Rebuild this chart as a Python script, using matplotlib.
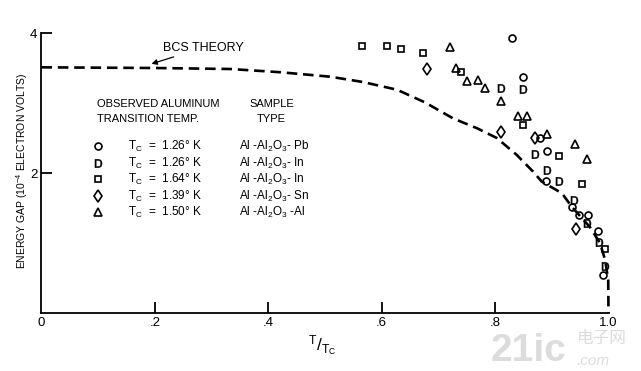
import matplotlib
matplotlib.use("Agg")
import matplotlib.pyplot as plt

plt.rcParams["font.family"] = ["Liberation Sans", "DejaVu Sans"]
plt.rcParams["mathtext.default"] = "regular"

# BCS theory curve
bcs_t = [0.0, 0.201, 0.333, 0.421, 0.509, 0.567, 0.627, 0.676, 0.726, 0.768,
         0.803, 0.838, 0.867, 0.882, 0.918, 0.935, 0.967, 0.985, 0.994, 0.9995, 1.0]
bcs_gap = [3.51, 3.50, 3.486, 3.44, 3.376, 3.30, 3.19, 3.01, 2.78, 2.64,
           2.50, 2.26, 2.02, 1.88, 1.71, 1.52, 1.23, 1.00, 0.76, 0.47, 0.0]

# measured points, one list pair per sample
pb_t = [0.830, 0.850, 0.880, 0.892, 0.890, 0.936, 0.948, 0.963, 0.982, 0.990]
pb_gap = [3.93, 3.37, 2.50, 2.31, 1.89, 1.52, 1.40, 1.40, 1.17, 0.55]

in126_t = [0.810, 0.850, 0.870, 0.891, 0.912, 0.940, 0.962, 0.983, 0.993]
in126_gap = [3.22, 3.20, 2.27, 2.05, 1.88, 1.62, 1.28, 1.02, 0.67]

in164_t = [0.566, 0.610, 0.634, 0.672, 0.739, 0.849, 0.912, 0.954, 0.994]
in164_gap = [3.81, 3.81, 3.77, 3.71, 3.45, 2.69, 2.25, 1.84, 0.91]

sn_t = [0.680, 0.810, 0.870, 0.943]
sn_gap = [3.49, 2.58, 2.50, 1.20]

al_t = [0.720, 0.731, 0.750, 0.769, 0.783, 0.810, 0.840, 0.856, 0.891, 0.941, 0.962]
al_gap = [3.80, 3.50, 3.32, 3.33, 3.22, 3.03, 2.81, 2.81, 2.56, 2.42, 2.20]

tc_labels = ["1.26", "1.26", "1.64", "1.39", "1.50"]
sample_labels = ["Al -Al$_2$O$_3$- Pb", "Al -Al$_2$O$_3$- In", "Al -Al$_2$O$_3$- In",
                 "Al -Al$_2$O$_3$- Sn", "Al -Al$_2$O$_3$ -Al"]

OPEN = dict(mfc="none", mec="black", mew=1.2)
series = [
    (pb_t, pb_gap, dict(marker="o", ms=5.0, **OPEN)),
    (in126_t, in126_gap, dict(marker=r"$\mathsf{D}$", ms=6.0, mfc="black", mec="black", mew=0.4)),
    (in164_t, in164_gap, dict(marker="s", ms=4.8, **OPEN)),
    (sn_t, sn_gap, dict(marker="d", ms=6.0, **OPEN)),
    (al_t, al_gap, dict(marker="^", ms=5.2, **OPEN)),
]

FS = 8.5


def main() -> None:
    fig = plt.figure(figsize=(6.41, 3.71), dpi=100)
    ax = fig.add_axes([0.0647, 0.1563, 0.8846, 0.7547])

    ax.plot(bcs_t, bcs_gap, color="black", lw=1.9, ls=(0, (4.0, 2.2)), clip_on=False)

    for t, g, style in series:
        ax.plot(t, g, ls="none", clip_on=False, **style)

    ax.set_xlim(0, 1.0)
    ax.set_ylim(0, 4)
    for side in ("top", "right"):
        ax.spines[side].set_visible(False)
    for side in ("left", "bottom"):
        ax.spines[side].set_linewidth(1.3)

    ax.set_xticks([0.2, 0.4, 0.6, 0.8], [".2", ".4", ".6", ".8"])
    ax.set_xticks([0.0, 1.0], ["0", "1.0"], minor=True)
    ax.set_yticks([2, 4], ["2", "4"])
    ax.tick_params(which="major", direction="in", length=8, width=1.3, labelsize=9.5, pad=3)
    ax.tick_params(which="minor", length=0, labelsize=9.5, pad=3)
    ax.tick_params(axis="x", which="both", pad=3)

    fig.text(21.7 / 641, 1 - 171 / 371, "ENERGY GAP (10$^{-4}$ ELECTRON VOLTS)",
             rotation=90, ha="center", va="center", fontsize=7.5)
    fig.text(322 / 641, 1 - 346 / 371, r"$^{T}/_{T_C}$", ha="center", va="center", fontsize=12.5)

    ax.annotate("BCS THEORY", xy=(0.194, 3.56), xytext=(0.214, 3.79),
                ha="left", va="center", fontsize=9,
                arrowprops=dict(arrowstyle="-|>", color="black", lw=0.9,
                                mutation_scale=8, shrinkA=1, shrinkB=0))

    # legend block
    ax.text(0.0974, 2.99, "OBSERVED ALUMINUM", ha="left", va="center", fontsize=8)
    ax.text(0.0974, 2.77, "TRANSITION TEMP.", ha="left", va="center", fontsize=8)
    ax.text(0.406, 2.99, "SAMPLE", ha="center", va="center", fontsize=8)
    ax.text(0.406, 2.77, "TYPE", ha="center", va="center", fontsize=8)

    row_y = [2.38, 2.14, 1.91, 1.67, 1.44]
    for (t, g, style), tc, samp, y in zip(series, tc_labels, sample_labels, row_y):
        ax.plot([0.100], [y], ls="none", **style)
        ax.text(0.153, y, "T$_C$  =  " + tc + "° K", ha="left", va="center", fontsize=FS)
        ax.text(0.349, y, samp, ha="left", va="center", fontsize=FS)

    # faint watermark in the lower right corner
    fig.text(0.765, 0.005, "21ic", fontsize=28, color="#dcdcdc", ha="left", va="bottom",
             fontweight="bold")
    fig.text(0.9, 0.065, "电子网", fontsize=12, color="#dcdcdc", ha="left", va="bottom",
             family=["Noto Sans CJK SC", "DejaVu Sans"])
    fig.text(0.9, 0.008, ".com", fontsize=11, color="#dcdcdc", ha="left", va="bottom",
             style="italic")

    fig.savefig("out.png", dpi=100)
    plt.close(fig)


if __name__ == "__main__":
    main()
